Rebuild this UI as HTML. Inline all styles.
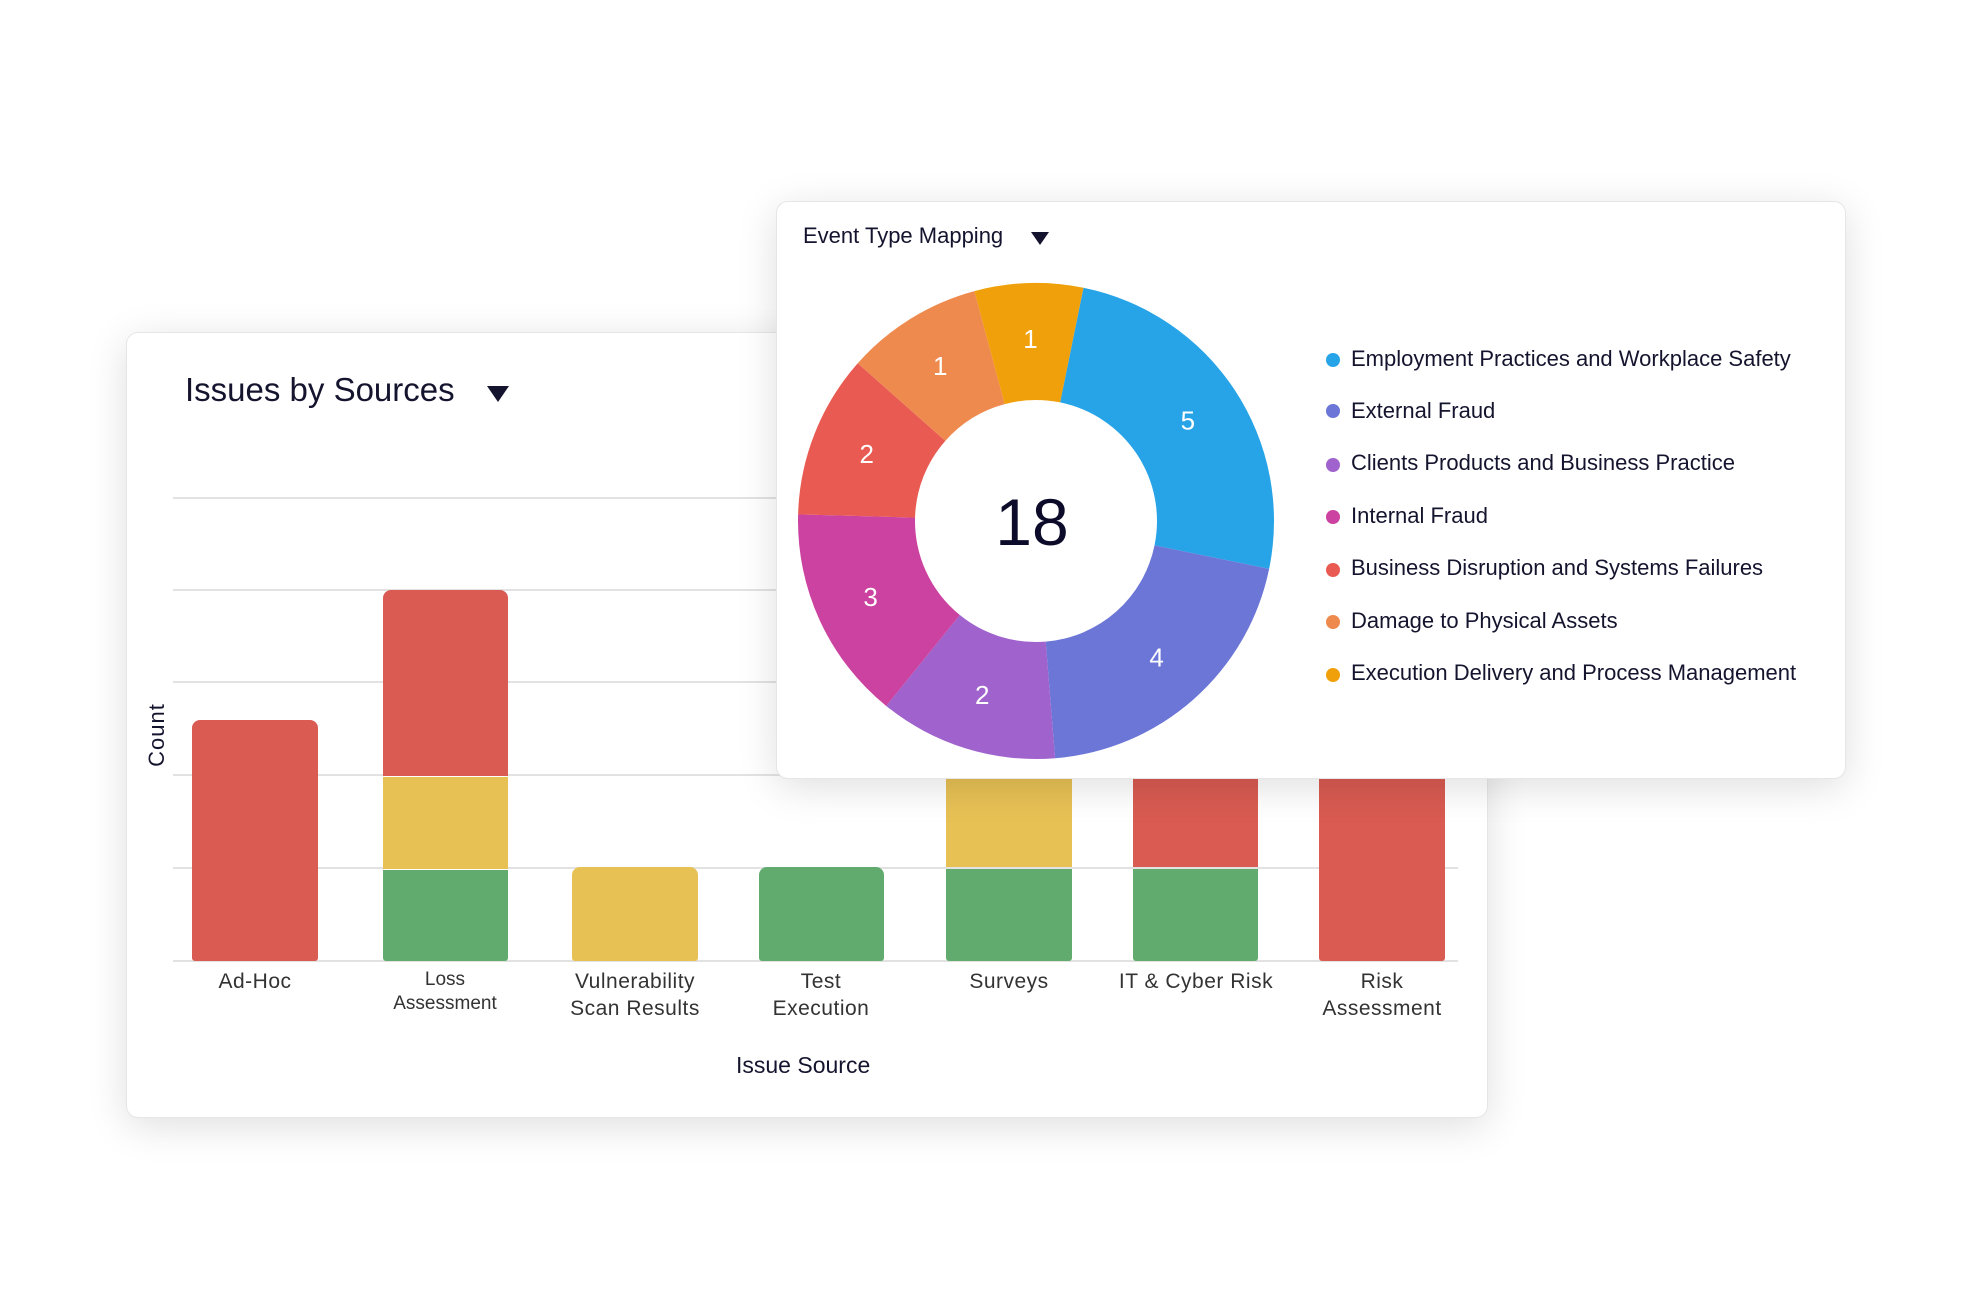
<!DOCTYPE html>
<html><head><meta charset="utf-8"><style>
body{margin:0;width:1975px;height:1313px;background:#fff;position:relative;overflow:hidden;font-family:"Liberation Sans",sans-serif;color:#14142e}
.card{position:absolute;background:#fff;border-radius:12px;box-shadow:0 8px 40px rgba(0,0,0,0.13);border:1px solid #e6e6e6}
.t{position:absolute;white-space:nowrap}
.tri{position:absolute;width:0;height:0;border-left:11px solid transparent;border-right:11px solid transparent;border-top:16px solid #14142e}
.gl{position:absolute;left:173px;width:1285px;height:2px;background:#e2e2e2}
.bar{position:absolute}
.lab{position:absolute;text-align:center;font-size:21px;color:#333;line-height:27px;letter-spacing:0.5px}
.dot{position:absolute;width:14px;height:14px;border-radius:50%}
.lg{position:absolute;font-size:22px;left:1351px}
</style></head><body>
<div class="card" style="left:126px;top:332px;width:1360px;height:784px"></div>
<div class="t" style="left:185px;top:371px;font-size:33px">Issues by Sources</div>
<div class="tri" style="left:487px;top:386px"></div>
<div class="gl" style="top:497px"></div><div class="gl" style="top:589px"></div><div class="gl" style="top:681px"></div><div class="gl" style="top:774px"></div><div class="gl" style="top:867px"></div><div class="gl" style="top:960px"></div>
<div class="t" style="left:125px;top:722px;font-size:22px;transform:rotate(-90deg);letter-spacing:1px">Count</div>
<div class="bar" style="left:192px;top:720px;width:126px;height:241px;background:#d95b52;border-radius:8px 8px 3px 3px"></div>
<div class="bar" style="left:383px;top:590px;width:125px;height:186px;background:#d95b52;border-radius:8px 8px 0 0"></div>
<div class="bar" style="left:383px;top:777px;width:125px;height:92px;background:#e8c155"></div>
<div class="bar" style="left:383px;top:870px;width:125px;height:91px;background:#62ab6e;border-radius:0 0 3px 3px"></div>
<div class="bar" style="left:572px;top:867px;width:126px;height:94px;background:#e8c155;border-radius:8px 8px 3px 3px"></div>
<div class="bar" style="left:759px;top:867px;width:125px;height:94px;background:#62ab6e;border-radius:8px 8px 3px 3px"></div>
<div class="bar" style="left:946px;top:700px;width:126px;height:167px;background:#e8c155"></div>
<div class="bar" style="left:946px;top:869px;width:126px;height:92px;background:#62ab6e;border-radius:0 0 3px 3px"></div>
<div class="bar" style="left:1133px;top:700px;width:125px;height:167px;background:#d95b52"></div>
<div class="bar" style="left:1133px;top:869px;width:125px;height:92px;background:#62ab6e;border-radius:0 0 3px 3px"></div>
<div class="bar" style="left:1319px;top:700px;width:126px;height:261px;background:#d95b52;border-radius:0 0 3px 3px"></div>
<div class="lab" style="left:175px;top:968px;width:160px">Ad-Hoc</div>
<div class="lab" style="left:365px;top:968px;width:160px;font-size:19px;line-height:24px;letter-spacing:0">Loss<br>Assessment</div>
<div class="lab" style="left:545px;top:968px;width:180px">Vulnerability<br>Scan Results</div>
<div class="lab" style="left:731px;top:968px;width:180px">Test<br>Execution</div>
<div class="lab" style="left:919px;top:968px;width:180px">Surveys</div>
<div class="lab" style="left:1096px;top:968px;width:200px">IT &amp; Cyber Risk</div>
<div class="lab" style="left:1292px;top:968px;width:180px">Risk<br>Assessment</div>
<div class="t" style="left:736px;top:1052px;font-size:23px">Issue Source</div>

<div class="card" style="left:776px;top:201px;width:1068px;height:576px"></div>
<div class="t" style="left:803px;top:223px;font-size:22px">Event Type Mapping</div>
<div class="tri" style="left:1031px;top:232px;border-left-width:9px;border-right-width:9px;border-top-width:13px"></div>
<svg id="d" style="position:absolute;left:0;top:0" width="1975" height="1313"></svg>
<div class="dot" style="left:1326px;top:353px;background:#27a4e8"></div><div class="lg" style="top:346px">Employment Practices and Workplace Safety</div>
<div class="dot" style="left:1326px;top:404px;background:#6b76d6"></div><div class="lg" style="top:398px">External Fraud</div>
<div class="dot" style="left:1326px;top:458px;background:#a062cc"></div><div class="lg" style="top:450px">Clients Products and Business Practice</div>
<div class="dot" style="left:1326px;top:510px;background:#cc42a0"></div><div class="lg" style="top:503px">Internal Fraud</div>
<div class="dot" style="left:1326px;top:563px;background:#e85a52"></div><div class="lg" style="top:555px">Business Disruption and Systems Failures</div>
<div class="dot" style="left:1326px;top:615px;background:#ef8a4e"></div><div class="lg" style="top:608px">Damage to Physical Assets</div>
<div class="dot" style="left:1326px;top:668px;background:#f0a00a"></div><div class="lg" style="top:660px">Execution Delivery and Process Management</div>
<script>
var cx=1036,cy=521,R=238,r=121;
var b=[11.5,101.6,175.4,219,271.6,311.5,345,371.5];
var d=[[5,'#27a4e8'],[4,'#6b76d6'],[2,'#a062cc'],[3,'#cc42a0'],[2,'#e85a52'],[1,'#ef8a4e'],[1,'#f0a00a']];
var s='';
function p(ang,rad){var t=(ang-90)*Math.PI/180;return [cx+rad*Math.cos(t),cy+rad*Math.sin(t)];}
d.forEach(function(x,i){var a=b[i],e=b[i+1];var p1=p(a,R),p2=p(e,R),p3=p(e,r),p4=p(a,r);var lg=(e-a)>180?1:0;
s+='<path d="M'+p1+' A'+R+' '+R+' 0 '+lg+' 1 '+p2+' L'+p3+' A'+r+' '+r+' 0 '+lg+' 0 '+p4+'Z" fill="'+x[1]+'"/>';
var m=p((a+e)/2,182);s+='<text x="'+m[0]+'" y="'+(m[1]+9)+'" fill="#fff" font-size="26" text-anchor="middle" font-family="Liberation Sans, sans-serif">'+x[0]+'</text>';});
s+='<text x="'+(cx-4)+'" y="'+(cy+24)+'" fill="#0c0c2a" font-size="66" text-anchor="middle" font-family="Liberation Sans, sans-serif">18</text>';
document.getElementById('d').innerHTML=s;
</script>
</body></html>
